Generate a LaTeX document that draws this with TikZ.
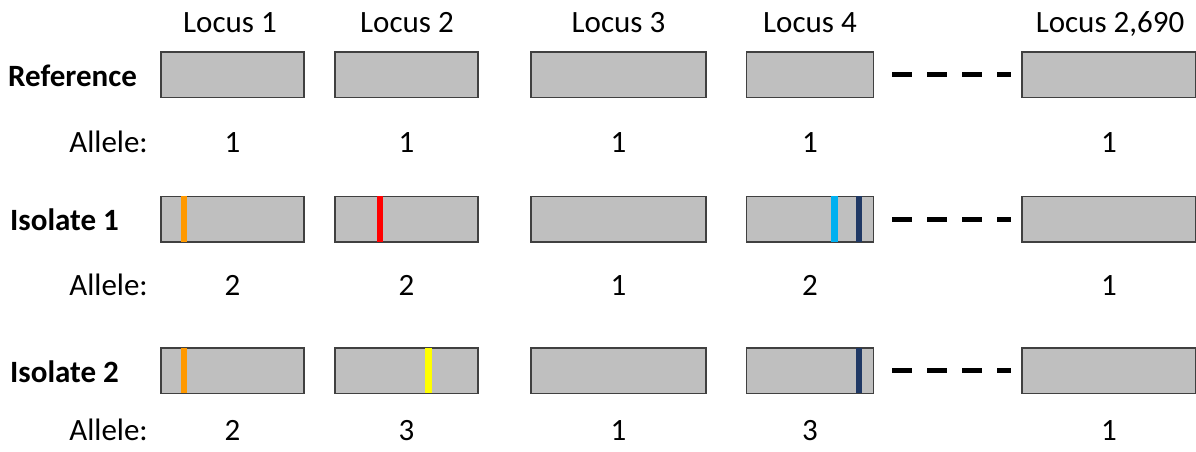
\documentclass[tikz,border=0pt]{standalone}
\usepackage{fontspec}
\setmainfont{Carlito}
\definecolor{boxfill}{HTML}{BFBFBF}
\definecolor{boxline}{HTML}{404040}
\definecolor{mutorange}{HTML}{FF9900}
\definecolor{mutred}{HTML}{FF0000}
\definecolor{mutyellow}{HTML}{FFFF00}
\definecolor{mutcyan}{HTML}{00B0F0}
\definecolor{mutnavy}{HTML}{1F3864}
\begin{document}
\begin{tikzpicture}[x=1pt,y=-1pt,
  lbl/.style={font=\fontsize{31}{36}\selectfont, anchor=base, inner sep=0pt},
  rowlbl/.style={font=\fontsize{31}{36}\selectfont\bfseries, anchor=base west, inner sep=0pt},
  allelelbl/.style={font=\fontsize{31}{36}\selectfont, anchor=base east, inner sep=0pt},
  locusbox/.style={draw=boxline, fill=boxfill, line width=1.5pt, minimum height=45.5pt, inner sep=0pt},
  dashline/.style={line width=5pt, dash pattern=on 20pt off 15pt, shorten <=18pt, shorten >=10pt}
]
\useasboundingbox (0,0) rectangle (1196,451);

% column headers
\node[lbl] (h1) at (230,32) {Locus 1};
\node[lbl] (h2) at (407,32) {Locus 2};
\node[lbl] (h3) at (618.5,32) {Locus 3};
\node[lbl] (h4) at (810,32) {Locus 4};
\node[lbl] (h5) at (1110,32) {Locus 2,690};

% row labels
\node[rowlbl] (rref) at (8,86) {Reference};
\node[rowlbl] (riso1) at (10,230) {Isolate 1};
\node[rowlbl] (riso2) at (10,382) {Isolate 2};

% allele labels
\node[allelelbl] (a1) at (148,152) {Allele:};
\node[allelelbl] (a2) at (148,295) {Allele:};
\node[allelelbl] (a3) at (148,440) {Allele:};

% boxes
\foreach \r/\y in {1/74.5, 2/219, 3/370.5}{
  \node[locusbox, minimum width=143pt] (b\r1) at (232.5,\y) {};
  \node[locusbox, minimum width=143pt] (b\r2) at (406.5,\y) {};
  \node[locusbox, minimum width=175pt] (b\r3) at (618.5,\y) {};
  \node[locusbox, minimum width=127pt] (b\r4) at (810,\y) {};
  \node[locusbox, minimum width=174pt] (b\r5) at (1109,\y) {};
  \draw[dashline] (b\r4.east) -- (b\r5.west);
}

% mutation bars (row 2)
\fill[mutorange] ([xshift=21pt,yshift=0.75pt]b21.south west) rectangle ([xshift=27pt,yshift=-0.75pt]b21.north west);
\fill[mutred] ([xshift=43pt,yshift=0.75pt]b22.south west) rectangle ([xshift=49pt,yshift=-0.75pt]b22.north west);
\fill[mutcyan] ([xshift=85pt,yshift=0.75pt]b24.south west) rectangle ([xshift=92pt,yshift=-0.75pt]b24.north west);
\fill[mutnavy] ([xshift=110pt,yshift=0.75pt]b24.south west) rectangle ([xshift=116pt,yshift=-0.75pt]b24.north west);
% mutation bars (row 3)
\fill[mutorange] ([xshift=21pt,yshift=0.75pt]b31.south west) rectangle ([xshift=27pt,yshift=-0.75pt]b31.north west);
\fill[mutyellow] ([xshift=91pt,yshift=0.75pt]b32.south west) rectangle ([xshift=98pt,yshift=-0.75pt]b32.north west);
\fill[mutnavy] ([xshift=110pt,yshift=0.75pt]b34.south west) rectangle ([xshift=116pt,yshift=-0.75pt]b34.north west);

% allele numbers
\foreach \r/\y/\na/\nb/\nc/\nd/\ne in {1/152/1/1/1/1/1, 2/295/2/2/1/2/1, 3/440/2/3/1/3/1}{
  \node[lbl] (n\r1) at (232.5,\y) {\na};
  \node[lbl] (n\r2) at (406.5,\y) {\nb};
  \node[lbl] (n\r3) at (618.5,\y) {\nc};
  \node[lbl] (n\r4) at (810,\y) {\nd};
  \node[lbl] (n\r5) at (1109,\y) {\ne};
}
\end{tikzpicture}
\end{document}
